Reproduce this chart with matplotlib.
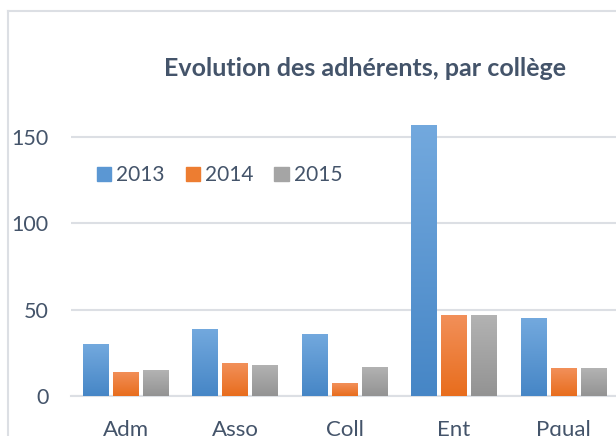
import numpy as np
import matplotlib
matplotlib.use('Agg')
import matplotlib.pyplot as plt
from matplotlib.colors import LinearSegmentedColormap
from matplotlib.lines import Line2D

# Data
categories = ['Adm', 'Asso', 'Coll', 'Ent', 'Pqual']
years = ['2013', '2014', '2015']
v2013 = [30, 39, 36, 157, 45]
v2014 = [14, 19, 7.5, 47, 16]
v2015 = [15, 18, 17, 47, 16]

# gradient colours (top, bottom) per series
colors = [('#73a9de', '#4686c6'), ('#f2905a', '#e86d1d'), ('#b3b3b3', '#939393')]
legend_cols = ['#5b97d3', '#ed7d31', '#a5a5a5']
text_col = '#44546a'
grid_col = '#dcdfe4'

plt.rcParams['font.family'] = ['Lato', 'DejaVu Sans']

fig = plt.figure(figsize=(6.16, 4.36), dpi=100)
ax = fig.add_axes([71/616, 40/436, 546/616, 276.3/436])

x = np.arange(len(categories))
width = 0.233
step = 0.274
grad = np.linspace(0, 1, 256).reshape(-1, 1)

for i, vals in enumerate([v2013, v2014, v2015]):
    top, bottom = colors[i]
    cmap = LinearSegmentedColormap.from_list('g%d' % i, [bottom, top])
    pos = x + (i - 1) * step
    bars = ax.bar(pos, vals, width, color=bottom, zorder=2, label=years[i])
    for b in bars:
        bx, bw, bh = b.get_x(), b.get_width(), b.get_height()
        im = ax.imshow(grad, extent=[bx, bx + bw, 0, bh], origin='lower',
                       cmap=cmap, aspect='auto', zorder=3)
        im.set_clip_path(b)

ax.set_xlim(-0.5, 4.49)
ax.set_ylim(0, 160)
ax.set_xticks(x)
ax.set_xticklabels(categories)
ax.set_yticks([0, 50, 100, 150])
ax.yaxis.grid(True, color=grid_col, linewidth=1.5, zorder=0)
ax.set_axisbelow(True)
for s in ['top', 'right', 'left']:
    ax.spines[s].set_visible(False)
ax.spines['bottom'].set_color(grid_col)
ax.spines['bottom'].set_linewidth(1.5)
ax.tick_params(axis='y', length=0, pad=16, labelsize=15.5, labelcolor=text_col)
ax.tick_params(axis='x', length=0, pad=17.5, labelsize=16, labelcolor=text_col)

# legend with solid patches
handles = [plt.Rectangle((0, 0), 1, 1, color=c) for c in legend_cols]
leg = fig.legend(handles, years, loc='center left',
                 bbox_to_anchor=(97/616, 1 - 175/436), ncol=3, frameon=False,
                 fontsize=15, handlelength=0.68, handleheight=0.68,
                 handletextpad=0.25, columnspacing=1.0, borderpad=0,
                 borderaxespad=0)
for t in leg.get_texts():
    t.set_color(text_col)

fig.text(365/616, 1 - 68/436, 'Evolution des adhérents, par collège',
         ha='center', va='center', fontsize=18, fontweight='bold', color=text_col)

# chart border (left and top edges visible)
fig.add_artist(Line2D([7.5/616, 7.5/616], [0, 1 - 11.5/436], color=grid_col, lw=1.5,
                      transform=fig.transFigure))
fig.add_artist(Line2D([7.5/616, 1], [1 - 11.5/436, 1 - 11.5/436], color=grid_col, lw=1.5,
                      transform=fig.transFigure))

fig.savefig('out.png', dpi=100)
